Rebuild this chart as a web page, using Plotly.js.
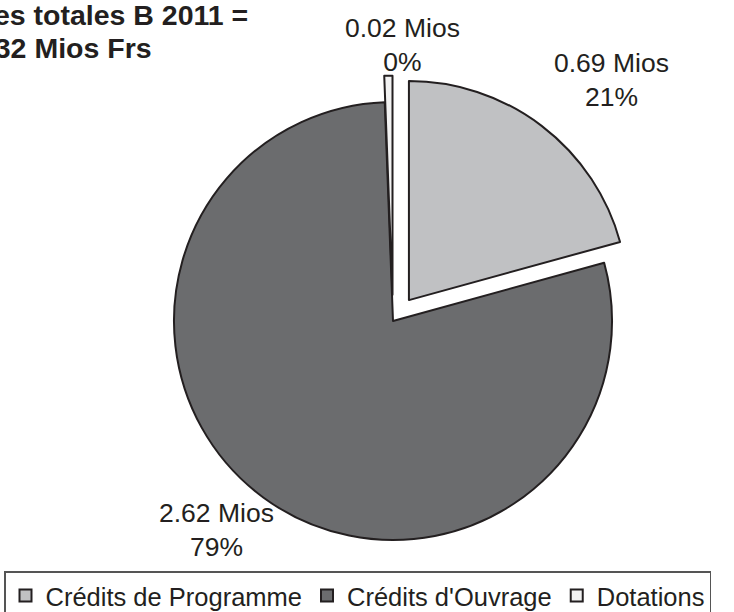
<!DOCTYPE html>
<html>
<head>
<meta charset="utf-8">
<script src="https://cdn.plot.ly/plotly-3.0.1.min.js"></script>
<style>html,body{margin:0;padding:0;background:#fff;}#chart{width:734px;height:612px;}</style>
</head>
<body>
<div id="chart"></div>
<script>
// Data
const categories = ["Crédits de Programme", "Crédits d'Ouvrage", "Dotations"];
const valuesMios = [0.69, 2.62, 0.02];
const percentLabels = ["21%", "79%", "0%"];
const titleLines = ["Dépenses totales B 2011 =", "3.32 Mios Frs"];

const sliceColors = ["#c0c1c3", "#6b6c6e", "#f2f2f2"];
const pulls = [0.12, 0, 0.12];
const labelPos = [[611, 80], [217, 530], [403, 45]]; // pixel centres of the outside labels
const W = 734, H = 612;
const textColor = "#231f20";
const font = "Liberation Sans, Arial, sans-serif";

const trace = {
  type: "pie",
  labels: categories,
  values: valuesMios,
  sort: false,
  direction: "clockwise",
  rotation: 0,
  pull: pulls,
  textinfo: "none",
  hoverinfo: "none",
  marker: { colors: sliceColors, line: { color: textColor, width: 2 } },
  domain: { x: [147.7 / W, 638.3 / W], y: [45.7 / H, 536.3 / H] }
};

const annotations = categories.map((c, i) => ({
  xref: "paper", yref: "paper",
  x: labelPos[i][0] / W, y: 1 - labelPos[i][1] / H,
  xanchor: "center", yanchor: "middle",
  text: valuesMios[i].toFixed(2) + " Mios<br>" + percentLabels[i],
  showarrow: false,
  font: { family: font, size: 26.5, color: textColor }
}));
annotations.push({
  xref: "paper", yref: "paper", x: 250 / W, y: 1 - 15 / H,
  xanchor: "right", yanchor: "middle", showarrow: false,
  text: titleLines[0],
  font: { family: font, size: 28.5, color: textColor, weight: "bold" }
});
annotations.push({
  xref: "paper", yref: "paper", x: 154 / W, y: 1 - 48 / H,
  xanchor: "right", yanchor: "middle", showarrow: false,
  text: titleLines[1],
  font: { family: font, size: 28.5, color: textColor, weight: "bold" }
});

const layout = {
  width: W, height: H,
  margin: { l: 0, r: 0, t: 0, b: 0, pad: 0, autoexpand: false },
  paper_bgcolor: "#ffffff",
  showlegend: true,
  legend: {
    orientation: "h",
    x: 4 / W, xanchor: "left",
    y: 1 - 571 / H, yanchor: "top",
    bordercolor: "#555555", borderwidth: 1.5,
    font: { family: font, size: 25.5, color: textColor },
    itemwidth: 30,
    tracegroupgap: 0
  },
  annotations: annotations
};

Plotly.newPlot("chart", [trace], layout, { staticPlot: true, displayModeBar: false });
</script>
</body>
</html>
